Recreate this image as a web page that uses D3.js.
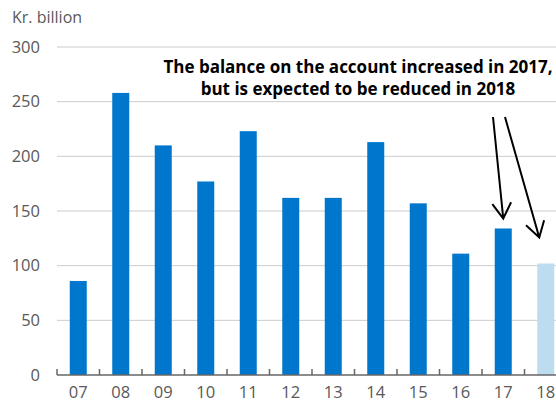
<!DOCTYPE html>
<html><head><meta charset="utf-8">
<script src="https://cdn.jsdelivr.net/npm/d3@7"></script>
<style>
body{margin:0;background:#fff;overflow:hidden}
svg{display:block}
text{font-family:"Open Sans",sans-serif}
</style></head>
<body>
<script>
const categories = ["07","08","09","10","11","12","13","14","15","16","17","18"];
const values = [86, 258, 210, 177, 223, 162, 162, 213, 157, 111, 134, 102];
const forecast = [false,false,false,false,false,false,false,false,false,false,false,true];
const yTicks = [0, 50, 100, 150, 200, 250, 300];
const unitLabel = "Kr. billion";
const annotation = ["The balance on the account increased in 2017,", "but is expected to be reduced in 2018"];

const W = 556, H = 403;
const svg = d3.select("body").append("svg").attr("width", W).attr("height", H);
const left = 57, bandW = 42.5;
const x = d3.scaleBand().domain(categories).range([left, left + bandW * categories.length]).paddingInner(0.6).paddingOuter(0.3);
const y = d3.scaleLinear().domain([0, 300]).range([375, 47]);

// gridlines
svg.append("g").selectAll("line").data(yTicks.filter(d => d > 0)).join("line")
  .attr("x1", left).attr("x2", W).attr("y1", d => y(d)).attr("y2", d => y(d))
  .attr("stroke", "#cccccc").attr("stroke-width", 1);

// y labels
svg.append("g").selectAll("text").data(yTicks).join("text")
  .attr("x", 40).attr("y", d => y(d)).attr("dy", "0.35em").attr("text-anchor", "end")
  .attr("font-size", 16.5).attr("fill", "#595959").text(d => d);

svg.append("text").attr("x", 12).attr("y", 23).attr("font-size", 16).attr("fill", "#595959").text(unitLabel);

// bars
svg.append("g").selectAll("rect").data(categories).join("rect")
  .attr("x", d => x(d)).attr("width", x.bandwidth())
  .attr("y", (d, i) => y(values[i])).attr("height", (d, i) => y(0) - y(values[i]))
  .attr("fill", (d, i) => forecast[i] ? "#bddcf0" : "#0077cc");

// axis line and ticks
svg.append("line").attr("x1", left).attr("x2", W).attr("y1", y(0)).attr("y2", y(0)).attr("stroke", "#666").attr("stroke-width", 1.5);
svg.append("g").selectAll("line").data(d3.range(categories.length + 1)).join("line")
  .attr("x1", i => left + i * bandW).attr("x2", i => left + i * bandW)
  .attr("y1", y(0)).attr("y2", y(0) - 6).attr("stroke", "#666").attr("stroke-width", 1.5);

// x labels
svg.append("g").selectAll("text").data(categories).join("text")
  .attr("x", d => x(d) + x.bandwidth() / 2).attr("y", 403).attr("dy", "-0.3em").attr("text-anchor", "middle")
  .attr("font-size", 16.5).attr("fill", "#595959").text(d => d);

// annotation
svg.append("g").selectAll("text").data(annotation).join("text")
  .attr("x", 358).attr("y", (d, i) => 73 + i * 22).attr("text-anchor", "middle")
  .attr("font-size", 17).attr("font-weight", "bold").attr("fill", "#000").text(d => d);

// arrows
const i17 = categories.indexOf("17"), i18 = categories.indexOf("18");
const arrows = [
  {x0: 493, y0: 117, x1: x("17") + x.bandwidth() / 2, y1: y(values[i17]) - 10},
  {x0: 505, y0: 117, x1: x("18") + 2, y1: y(values[i18]) - 26}
];
arrows.forEach(a => {
  const ang = Math.atan2(a.y1 - a.y0, a.x1 - a.x0);
  const L = 18, sp = 0.55;
  const p1 = [a.x1 - L * Math.cos(ang - sp), a.y1 - L * Math.sin(ang - sp)];
  const p2 = [a.x1 - L * Math.cos(ang + sp), a.y1 - L * Math.sin(ang + sp)];
  svg.append("path").attr("d", `M${a.x0},${a.y0}L${a.x1},${a.y1}M${p1}L${a.x1},${a.y1}L${p2}`)
    .attr("fill", "none").attr("stroke", "#000").attr("stroke-width", 2);
});
</script>
</body></html>
